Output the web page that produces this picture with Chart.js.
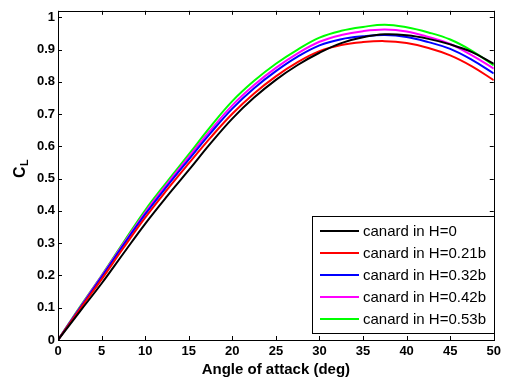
<!DOCTYPE html>
<html>
<head>
<meta charset="utf-8">
<script src="https://cdn.jsdelivr.net/npm/chart.js@4"></script>
<style>
html,body{margin:0;padding:0;background:#fff;}
#wrap{width:505px;height:379px;position:relative;}
</style>
</head>
<body>
<div id="wrap"><canvas id="c" width="505" height="379"></canvas></div>
<script>
const angles = [0,2.5,5,7.5,10,12.5,15,17.5,20,22.5,25,27.5,30,32.5,35,37.5,40,42.5,45,47.5,50];
const clH0    = [0,0.088,0.175,0.268,0.360,0.445,0.526,0.609,0.686,0.751,0.806,0.852,0.890,0.920,0.938,0.947,0.944,0.933,0.916,0.892,0.856];
const clH021b = [0,0.095,0.188,0.285,0.379,0.465,0.547,0.627,0.701,0.764,0.817,0.861,0.895,0.914,0.923,0.926,0.920,0.905,0.882,0.848,0.805];
const clH032b = [0,0.098,0.195,0.294,0.389,0.476,0.559,0.641,0.717,0.780,0.833,0.878,0.913,0.932,0.941,0.945,0.939,0.923,0.902,0.868,0.826];
const clH042b = [0,0.100,0.198,0.298,0.395,0.483,0.567,0.650,0.727,0.790,0.843,0.888,0.924,0.945,0.957,0.962,0.956,0.939,0.917,0.882,0.841];
const clH053b = [0,0.102,0.200,0.302,0.402,0.490,0.575,0.661,0.740,0.803,0.856,0.900,0.937,0.958,0.970,0.977,0.969,0.953,0.931,0.896,0.851];
const seriesLabels = ['canard in H=0','canard in H=0.21b','canard in H=0.32b','canard in H=0.42b','canard in H=0.53b'];
const seriesColors = ['#000000','#ff0000','#0000ff','#ff00ff','#00ff00'];
const xTicks = [0,5,10,15,20,25,30,35,40,45,50];
const yTicks = [0,0.1,0.2,0.3,0.4,0.5,0.6,0.7,0.8,0.9,1];
const xTitle = 'Angle of attack (deg)';

const allSeries = [clH0, clH021b, clH032b, clH042b, clH053b];
const datasets = allSeries.map((s, i) => ({
  label: seriesLabels[i],
  data: angles.map((a, j) => ({x: a, y: s[j]})),
  borderColor: seriesColors[i],
  backgroundColor: seriesColors[i],
  borderWidth: 2,
  pointRadius: 0,
  tension: 0.4,
  fill: false,
  order: i
}));

const fam = '"Liberation Sans", Arial, sans-serif';
const tickFont = {family: fam, size: 13, weight: 'bold'};

const boxPlugin = {
  id: 'matlabBox',
  afterDatasetsDraw(chart) {
    const {ctx, chartArea: a, scales} = chart;
    ctx.save();
    ctx.strokeStyle = '#000';
    ctx.lineWidth = 1;
    ctx.strokeRect(Math.round(a.left)+0.5, Math.round(a.top)+0.5, Math.round(a.right-a.left), Math.round(a.bottom-a.top));
    const L = 4;
    ctx.beginPath();
    xTicks.forEach(v => {
      const px = Math.round(scales.x.getPixelForValue(v)) + 0.5;
      ctx.moveTo(px, a.bottom); ctx.lineTo(px, a.bottom - L);
      ctx.moveTo(px, a.top); ctx.lineTo(px, a.top + L);
    });
    yTicks.forEach(v => {
      const py = Math.round(scales.y.getPixelForValue(v)) + 0.5;
      ctx.moveTo(a.left, py); ctx.lineTo(a.left + L, py);
      ctx.moveTo(a.right, py); ctx.lineTo(a.right - L, py);
    });
    ctx.stroke();

    // legend box
    const bx = 312, by = 216, bw = 182, bh = 117;
    ctx.fillStyle = '#fff';
    ctx.fillRect(bx, by, bw, bh);
    ctx.strokeRect(bx + 0.5, by + 0.5, bw, bh);
    ctx.font = '15px ' + fam;
    ctx.textBaseline = 'middle';
    ctx.textAlign = 'left';
    chart.data.datasets.forEach((d, i) => {
      const y = by + 15 + i * 22;
      ctx.strokeStyle = d.borderColor;
      ctx.lineWidth = 2;
      ctx.beginPath();
      ctx.moveTo(320, y); ctx.lineTo(359, y);
      ctx.stroke();
      ctx.fillStyle = '#000';
      ctx.fillText(d.label, 363, y + 1);
    });

    // y axis title C_L
    ctx.translate(25, 178);
    ctx.rotate(-Math.PI / 2);
    ctx.fillStyle = '#000';
    ctx.textBaseline = 'alphabetic';
    ctx.font = 'bold 16px ' + fam;
    ctx.fillText('C', 0, 0);
    ctx.font = 'bold 11px ' + fam;
    ctx.fillText('L', 12, 3);
    ctx.restore();
  }
};

new Chart(document.getElementById('c'), {
  type: 'line',
  data: {datasets},
  options: {
    responsive: false,
    animation: false,
    events: [],
    layout: {padding: {left: 0, top: 6, right: 8, bottom: 0}},
    plugins: {legend: {display: false}, tooltip: {enabled: false}},
    scales: {
      x: {
        type: 'linear', min: 0, max: 50,
        grid: {display: false, drawTicks: false},
        border: {display: false},
        ticks: {stepSize: 5, color: '#000', font: tickFont, padding: 4, maxRotation: 0,
                callback: v => String(v)},
        afterBuildTicks: s => { s.ticks = xTicks.map(v => ({value: v})); },
        title: {display: true, text: xTitle, color: '#000', padding: {top: -3, bottom: 0},
                font: {family: fam, size: 15, weight: 'bold'}},
        afterFit: s => { s.height = 39; }
      },
      y: {
        type: 'linear', min: 0, max: 1.02,
        grid: {display: false, drawTicks: false},
        border: {display: false},
        ticks: {stepSize: 0.1, color: '#000', font: tickFont, padding: 3,
                callback: v => String(Math.round(v * 10) / 10)},
        afterBuildTicks: s => { s.ticks = yTicks.map(v => ({value: v})); },
        afterFit: s => { s.width = 58; }
      }
    }
  },
  plugins: [boxPlugin]
});
</script>
</body>
</html>
